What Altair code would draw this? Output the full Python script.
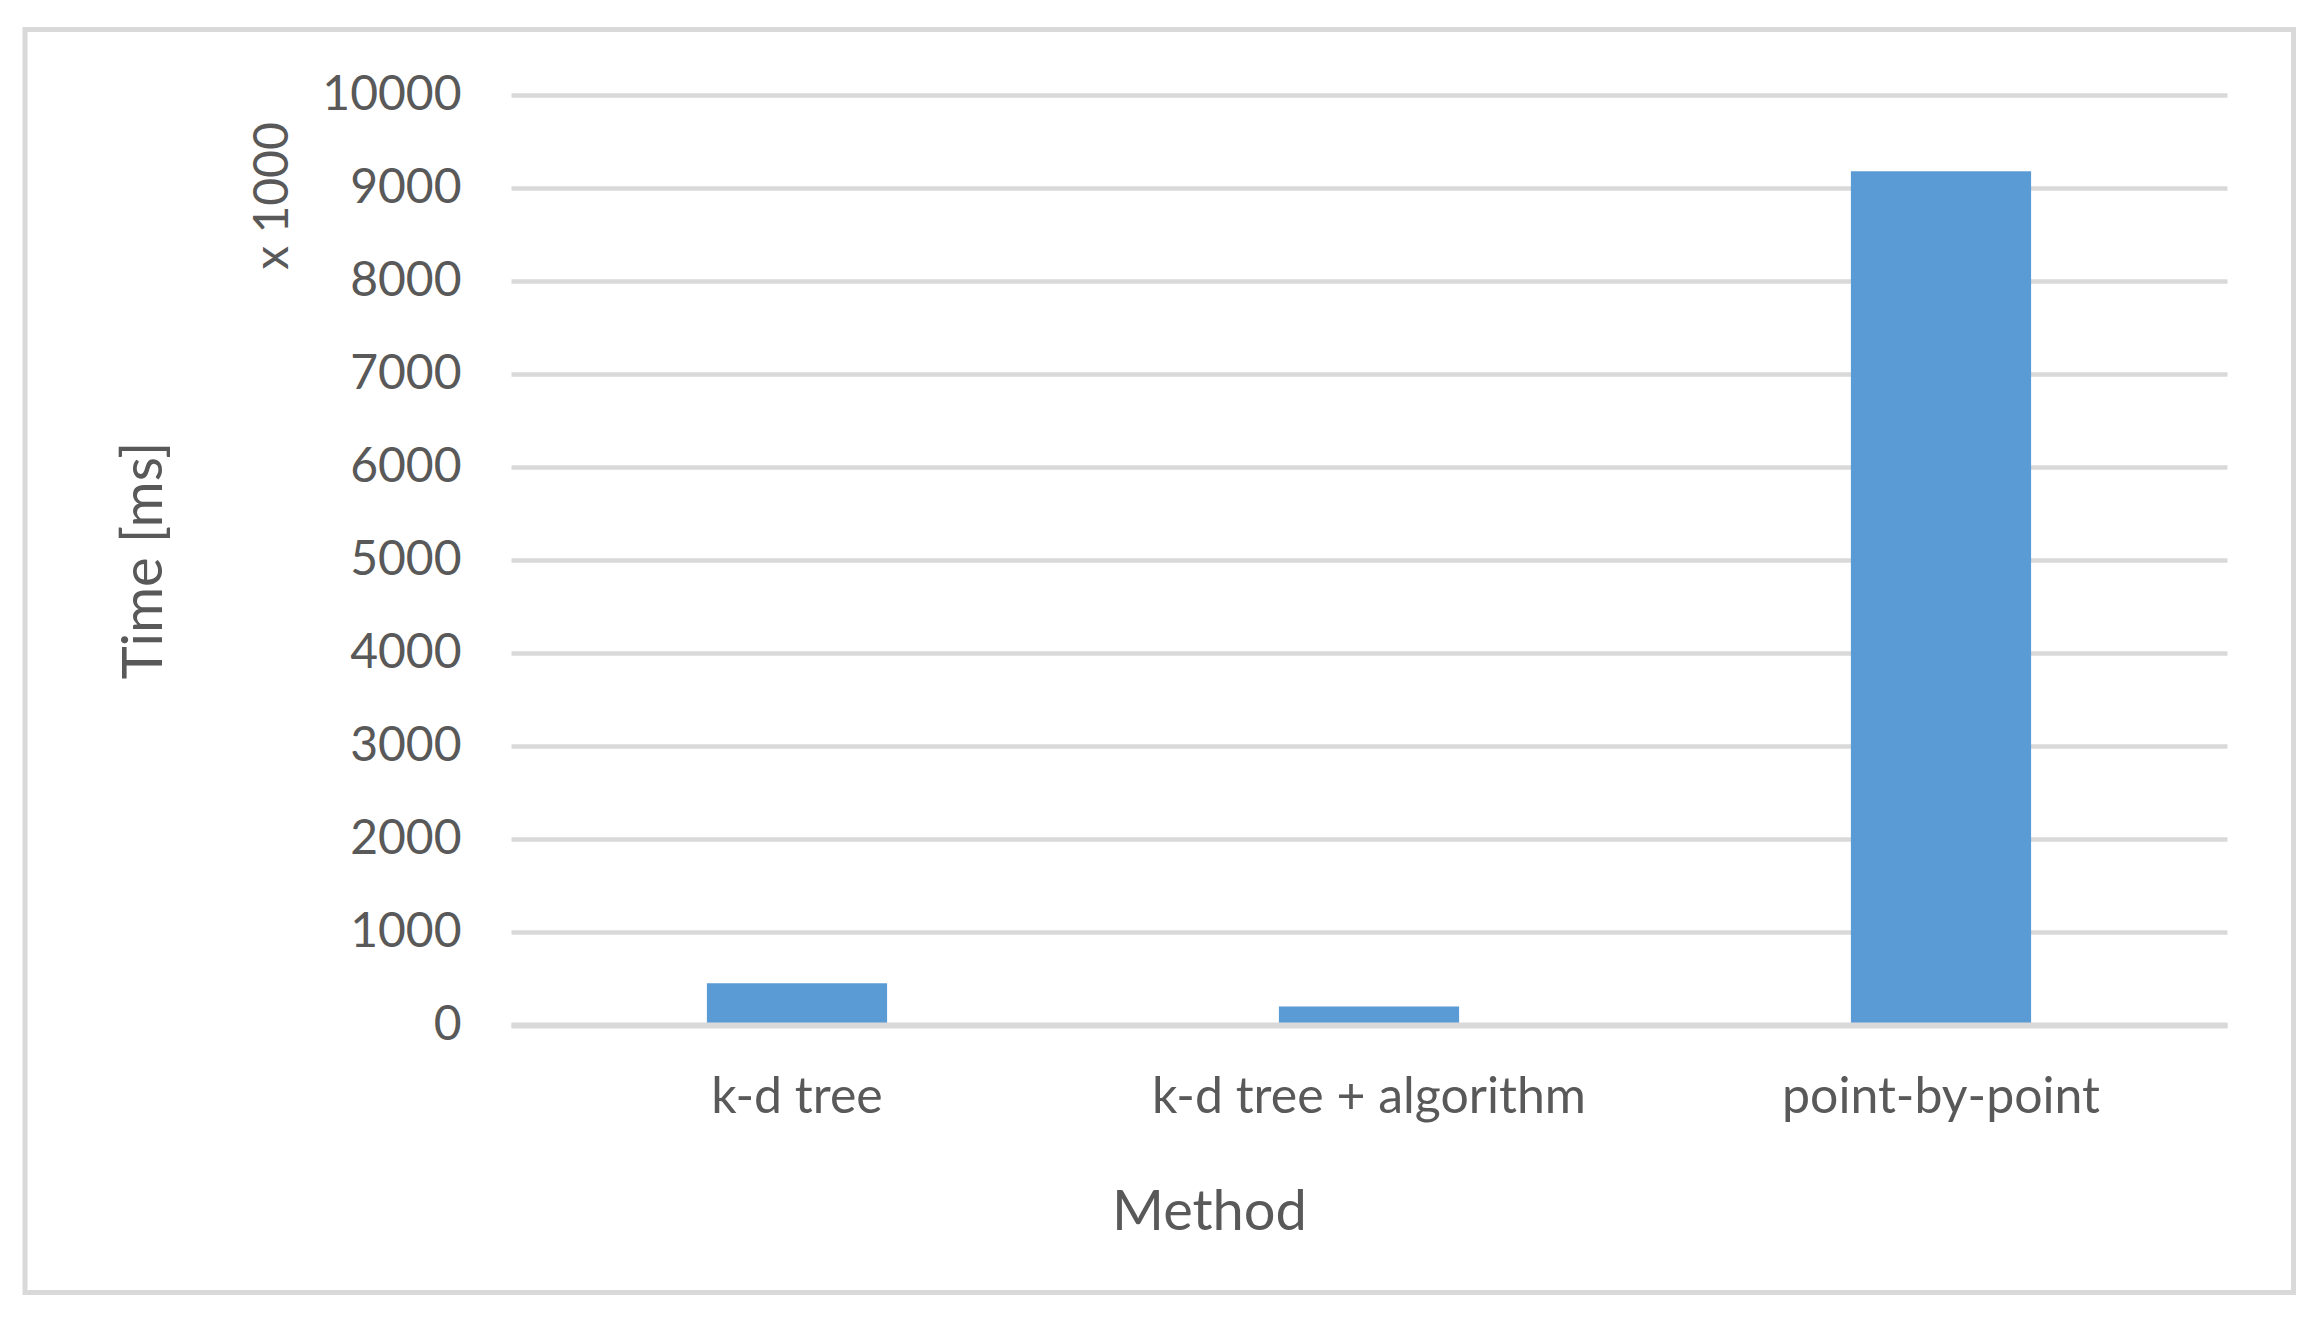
import altair as alt
import pandas as pd

categories = ["k-d tree", "k-d tree + algorithm", "point-by-point"]
times = [450, 200, 9180]
y_ticks = [0, 1000, 2000, 3000, 4000, 5000, 6000, 7000, 8000, 9000, 10000]

df = pd.DataFrame({"method": categories, "time": times})

FONT = "Lato"
TXT = "#595959"
GRID = "#d9d9d9"

bars = alt.Chart(df).mark_bar(color="#5b9bd5").encode(
    x=alt.X(
        "method:N",
        sort=categories,
        scale=alt.Scale(paddingInner=0.685, paddingOuter=0.3425),
        axis=alt.Axis(
            title="Method",
            labelAngle=0,
            labelLimit=0,
            labelFont=FONT,
            labelFontSize=50,
            labelColor=TXT,
            labelBaseline="middle",
            labelPadding=72,
            ticks=False,
            grid=False,
            domainColor=GRID,
            domainWidth=6,
            titleFont=FONT,
            titleFontSize=56,
            titleFontWeight="normal",
            titleColor=TXT,
            titleX=698,
            titleY=187,
            titleBaseline="middle",
            titleAlign="center",
            zindex=1,
        ),
    ),
    y=alt.Y(
        "time:Q",
        scale=alt.Scale(domain=[0, 10000], nice=False),
        axis=alt.Axis(
            title="Time [ms]",
            values=y_ticks,
            format="d",
            labelFont=FONT,
            labelFontSize=48,
            labelColor=TXT,
            labelPadding=50,
            ticks=False,
            domain=False,
            grid=True,
            gridColor=GRID,
            gridWidth=4.5,
            titleFont=FONT,
            titleFontSize=56,
            titleFontWeight="normal",
            titleColor=TXT,
            titleAngle=270,
            titleX=-367,
            titleY=465,
            titleBaseline="middle",
            titleAlign="center",
            zindex=0,
        ),
    ),
)

note = alt.Chart(pd.DataFrame({"t": ["x 1000"]})).mark_text(
    angle=270, fontSize=48, font=FONT, color=TXT, align="center", baseline="middle"
).encode(text="t:N", x=alt.value(-237), y=alt.value(101))

border = alt.Chart(pd.DataFrame({"a": [0]})).mark_rect(
    fillOpacity=0, stroke=GRID, strokeWidth=5, clip=False
).encode(
    x=alt.value(-486), x2=alt.value(1782.5), y=alt.value(-65.5), y2=alt.value(1197.5)
)

chart = alt.layer(border, bars, note).properties(
    width=1716,
    height=930,
    autosize=alt.AutoSizeParams(type="none"),
    padding={"left": 503, "top": 87, "right": 81, "bottom": 283},
    background="white",
).configure_view(strokeWidth=0)

chart.save("out.html", embed_options={"renderer": "svg", "actions": False})
